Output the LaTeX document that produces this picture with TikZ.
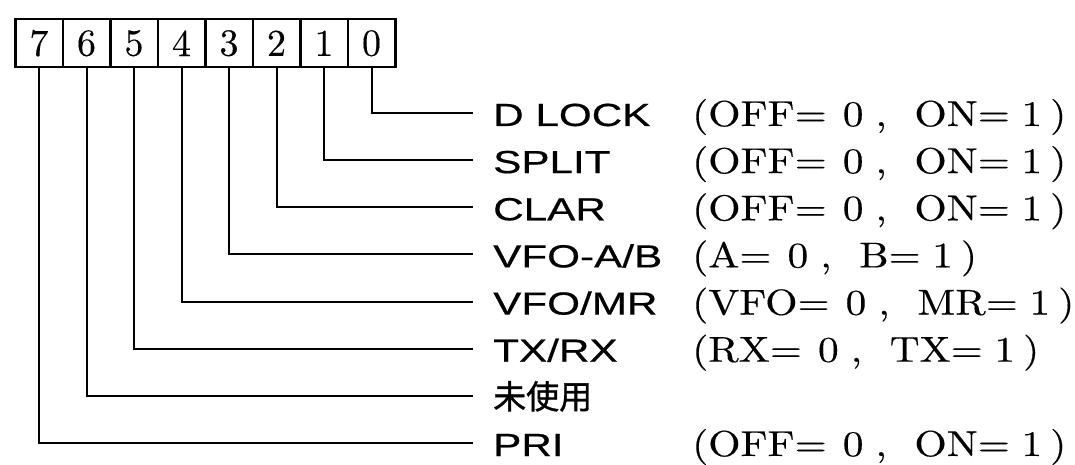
\documentclass[tikz,border=0pt]{standalone}
\usepackage{fontspec}
\newfontfamily\labfont[FakeStretch=1.32,FakeBold=0.5]{Liberation Sans}
\newfontfamily\valfont[FakeStretch=1.15,FakeBold=0.3]{lmroman10-regular.otf}
\newfontfamily\digfont[FakeBold=0.3]{lmroman10-regular.otf}
\newfontfamily\cjk[FakeBold=1]{Noto Sans CJK JP}
\newcommand{\pv}[2]{(#1=\hspace{16pt}0\hspace{12pt},\hspace{27.5pt}#2=\hspace{11.5pt}1\hspace{8pt})}
\tikzset{
  cell/.style={draw, line width=2.5pt, minimum width=47.5pt, minimum height=48pt,
    inner sep=0pt, anchor=north west, font=\digfont\fontsize{38}{40}\selectfont},
  conn/.style={line width=2pt},
  lab/.style={anchor=west, inner xsep=20pt, inner ysep=0pt, text height=26pt, text depth=0pt,
    font=\labfont\fontsize{32}{36}\selectfont},
  val/.style={anchor=base west, inner sep=0pt, font=\valfont\fontsize{36}{40}\selectfont}
}
\begin{document}
\begin{tikzpicture}[x=1pt, y=-1pt]
\useasboundingbox (0,0) rectangle (1075,465);
\foreach \i in {0,...,7}{
  \pgfmathtruncatemacro{\b}{7-\i}
  \node[cell] (c\b) at ({14+47.5*\i},18) {\b};
}
\node[lab] (lab0) at (473,113.0) {D LOCK};
\node[lab] (lab1) at (473,160.1) {SPLIT};
\node[lab] (lab2) at (473,207.3) {CLAR};
\node[lab] (lab3) at (473,254.4) {VFO-A/B};
\node[lab] (lab4) at (473,301.6) {VFO/MR};
\node[lab] (lab5) at (473,348.7) {TX/RX};
\node[lab, font=\cjk\fontsize{33}{36}\selectfont] (lab6) at (473,395.8) {未使用};
\node[lab] (lab7) at (473,443.0) {PRI};
\node[val] (v0) at (692,126.0) {\pv{OFF}{ON}};
\node[val] (v1) at (692,173.1) {\pv{OFF}{ON}};
\node[val] (v2) at (692,220.3) {\pv{OFF}{ON}};
\node[val] (v3) at (692,267.4) {\pv{A}{B}};
\node[val] (v4) at (692,314.6) {\pv{VFO}{MR}};
\node[val] (v5) at (692,361.7) {\pv{RX}{TX}};
\node[val] (v7) at (692,456.0) {\pv{OFF}{ON}};
\foreach \b in {0,...,7}{
  \draw[conn] (c\b.south) |- (lab\b.west);
}
\end{tikzpicture}
\end{document}
